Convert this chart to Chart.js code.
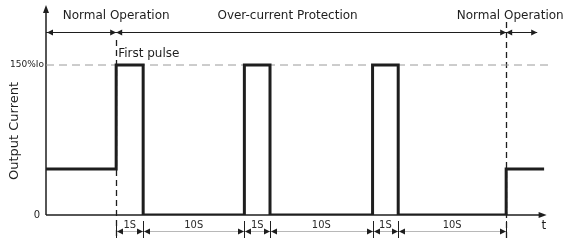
<!DOCTYPE html>
<html>
<head>
<meta charset="utf-8">
<script src="https://cdn.jsdelivr.net/npm/chart.js@4"></script>
<style>
  html, body { margin: 0; background: #fff; }
  #wrap { width: 574px; height: 241px; }
</style>
</head>
<body>
<div id="wrap"><canvas id="chart"></canvas></div>
<script>
// schematic time (1 unit ~ the "1S" pulse width in the drawing)
const pulseStarts = [2.6, 7.35, 12.1];
const pulseEnds = [3.6, 8.3, 13.05];
const recoverAt = 17.05;
const traceEnd = 18.4;
const normalLevel = 46;   // % of Io
const limitLevel = 150;   // % of Io
const intervalEdges = [2.6, 3.6, 7.35, 8.3, 12.1, 13.05, 17.05];
const intervalLabels = ["1S", "10S", "1S", "10S", "1S", "10S"];
const phaseLabels = ["Normal Operation", "Over-current Protection", "Normal Operation"];
const phaseBounds = [0, 2.6, 17.05, 18.2];
const yTickLabels = ["0", "150%Io"];

// build the waveform from the arrays above
const wave = [{ x: 0, y: normalLevel }];
pulseStarts.forEach((s, i) => {
  const prev = wave[wave.length - 1].y;
  wave.push({ x: s, y: prev });
  wave.push({ x: s, y: limitLevel });
  wave.push({ x: pulseEnds[i], y: limitLevel });
  wave.push({ x: pulseEnds[i], y: 0 });
});
wave.push({ x: recoverAt, y: 0 });
wave.push({ x: recoverAt, y: normalLevel });
wave.push({ x: traceEnd, y: normalLevel });

const INK = "#1e1e1e";

function arrow(ctx, x, y, dir) {
  // dir: 1 -> pointing right, -1 -> pointing left, tip at (x, y)
  ctx.beginPath();
  ctx.moveTo(x, y);
  ctx.lineTo(x - dir * 6, y - 3);
  ctx.lineTo(x - dir * 6, y + 3);
  ctx.closePath();
  ctx.fill();
}

const decor = {
  id: "decor",
  beforeDatasetsDraw(chart) {
    const ctx = chart.ctx, xs = chart.scales.x, ys = chart.scales.y;
    const x0 = xs.getPixelForValue(0), y0 = ys.getPixelForValue(0);
    ctx.save();
    ctx.strokeStyle = INK; ctx.fillStyle = INK; ctx.lineWidth = 1.5;
    // y axis with arrow
    ctx.beginPath();
    ctx.moveTo(x0, y0); ctx.lineTo(x0, ys.getPixelForValue(205));
    ctx.stroke();
    ctx.beginPath();
    ctx.moveTo(x0, ys.getPixelForValue(210));
    ctx.lineTo(x0 - 3, ys.getPixelForValue(202));
    ctx.lineTo(x0 + 3, ys.getPixelForValue(202));
    ctx.closePath(); ctx.fill();
    // x axis with arrow
    const xe = xs.getPixelForValue(18.55);
    ctx.beginPath();
    ctx.moveTo(x0, y0); ctx.lineTo(xe - 4, y0);
    ctx.stroke();
    ctx.beginPath();
    ctx.moveTo(xe, y0); ctx.lineTo(xe - 8, y0 - 3); ctx.lineTo(xe - 8, y0 + 3);
    ctx.closePath(); ctx.fill();

    // dashed phase boundaries
    ctx.setLineDash([6, 4]);
    ctx.lineWidth = 1.3;
    [[phaseBounds[1], 175], [phaseBounds[2], 193]].forEach(([t, top]) => {
      const px = Math.round(xs.getPixelForValue(t)) + 0.5;
      ctx.beginPath();
      ctx.moveTo(px, ys.getPixelForValue(top));
      ctx.lineTo(px, ys.getPixelForValue(-23));
      ctx.stroke();
    });
    ctx.setLineDash([]);

    // phase arrows along the top
    const ya = Math.round(ys.getPixelForValue(183)) + 0.5;
    ctx.lineWidth = 1;
    ctx.beginPath();
    ctx.moveTo(x0, ya); ctx.lineTo(xs.getPixelForValue(phaseBounds[3]), ya);
    ctx.stroke();
    for (let i = 0; i < 3; i++) {
      arrow(ctx, xs.getPixelForValue(phaseBounds[i]) + (i === 0 ? 1 : 0), ya, -1);
      arrow(ctx, xs.getPixelForValue(phaseBounds[i + 1]), ya, 1);
    }

    // interval dimension line at the bottom
    const yd = Math.round(ys.getPixelForValue(-16)) + 0.5;
    ctx.strokeStyle = "#b8b8b8";
    ctx.beginPath();
    ctx.moveTo(xs.getPixelForValue(intervalEdges[0]), yd);
    ctx.lineTo(xs.getPixelForValue(intervalEdges[intervalEdges.length - 1]), yd);
    ctx.stroke();
    ctx.strokeStyle = INK;
    intervalEdges.forEach((t, i) => {
      const px = Math.round(xs.getPixelForValue(t)) + 0.5;
      ctx.beginPath();
      ctx.moveTo(px, ys.getPixelForValue(-6)); ctx.lineTo(px, ys.getPixelForValue(-23));
      ctx.stroke();
      if (i > 0) arrow(ctx, px - 0.5, yd, 1);
      if (i < intervalEdges.length - 1) arrow(ctx, px + 0.5, yd, -1);
    });
    ctx.restore();
  },
  afterDraw(chart) {
    const ctx = chart.ctx, xs = chart.scales.x, ys = chart.scales.y;
    const x0 = xs.getPixelForValue(0);
    ctx.save();
    ctx.fillStyle = INK;
    ctx.textBaseline = "middle";
    // phase names
    ctx.font = "12px 'DejaVu Sans'";
    ctx.textAlign = "center";
    const phaseTextAt = [2.6, 8.95, 17.2];
    phaseLabels.forEach((s, i) => {
      ctx.fillText(s, xs.getPixelForValue(phaseTextAt[i]), ys.getPixelForValue(199));
    });
    // first pulse
    ctx.textAlign = "left";
    ctx.font = "12px 'DejaVu Sans'";
    ctx.fillText("First pulse", xs.getPixelForValue(pulseStarts[0]) + 2, ys.getPixelForValue(161));
    // y tick labels
    ctx.textAlign = "right";
    ctx.font = "10px 'DejaVu Sans'";
    ctx.fillText(yTickLabels[0], x0 - 6, ys.getPixelForValue(0));
    ctx.font = "9px 'DejaVu Sans'";
    ctx.fillText(yTickLabels[1], x0 - 2, ys.getPixelForValue(limitLevel));
    // axis titles
    ctx.font = "12px 'DejaVu Sans'";
    ctx.textAlign = "center";
    ctx.fillText("t", xs.getPixelForValue(18.45), ys.getPixelForValue(-11));
    ctx.save();
    ctx.translate(15, ys.getPixelForValue(84));
    ctx.rotate(-Math.PI / 2);
    ctx.font = "13px 'DejaVu Sans'";
    ctx.fillText("Output Current", 0, 0);
    ctx.restore();
    // interval labels
    ctx.font = "11px 'Liberation Sans Narrow', 'DejaVu Sans Condensed'";
    ctx.fillStyle = "#2a2a2a";
    intervalLabels.forEach((s, i) => {
      const mid = (intervalEdges[i] + intervalEdges[i + 1]) / 2;
      ctx.fillText(s, xs.getPixelForValue(mid), ys.getPixelForValue(-10));
    });
    ctx.restore();
  }
};

new Chart(document.getElementById("chart"), {
  type: "scatter",
  data: {
    datasets: [
      {
        label: "Output Current",
        data: wave,
        showLine: true,
        borderColor: INK,
        borderWidth: 3,
        pointRadius: 0,
        borderCapStyle: "square",
        borderJoinStyle: "miter",
        order: 0,
      },
      {
        label: "150%Io",
        data: [{ x: 0, y: limitLevel }, { x: 18.6, y: limitLevel }],
        showLine: true,
        borderColor: "#9a9a9a",
        borderWidth: 1,
        borderDash: [8, 5],
        pointRadius: 0,
        order: 1,
      },
    ],
  },
  options: {
    responsive: true,
    maintainAspectRatio: false,
    animation: false,
    layout: { padding: { left: 46, top: 5, right: 26, bottom: 26 } },
    plugins: { legend: { display: false }, tooltip: { enabled: false } },
    scales: {
      x: { type: "linear", display: false, min: 0, max: 18.6 },
      y: { display: false, min: 0, max: 210 },
    },
  },
  plugins: [decor],
});
</script>
</body>
</html>
